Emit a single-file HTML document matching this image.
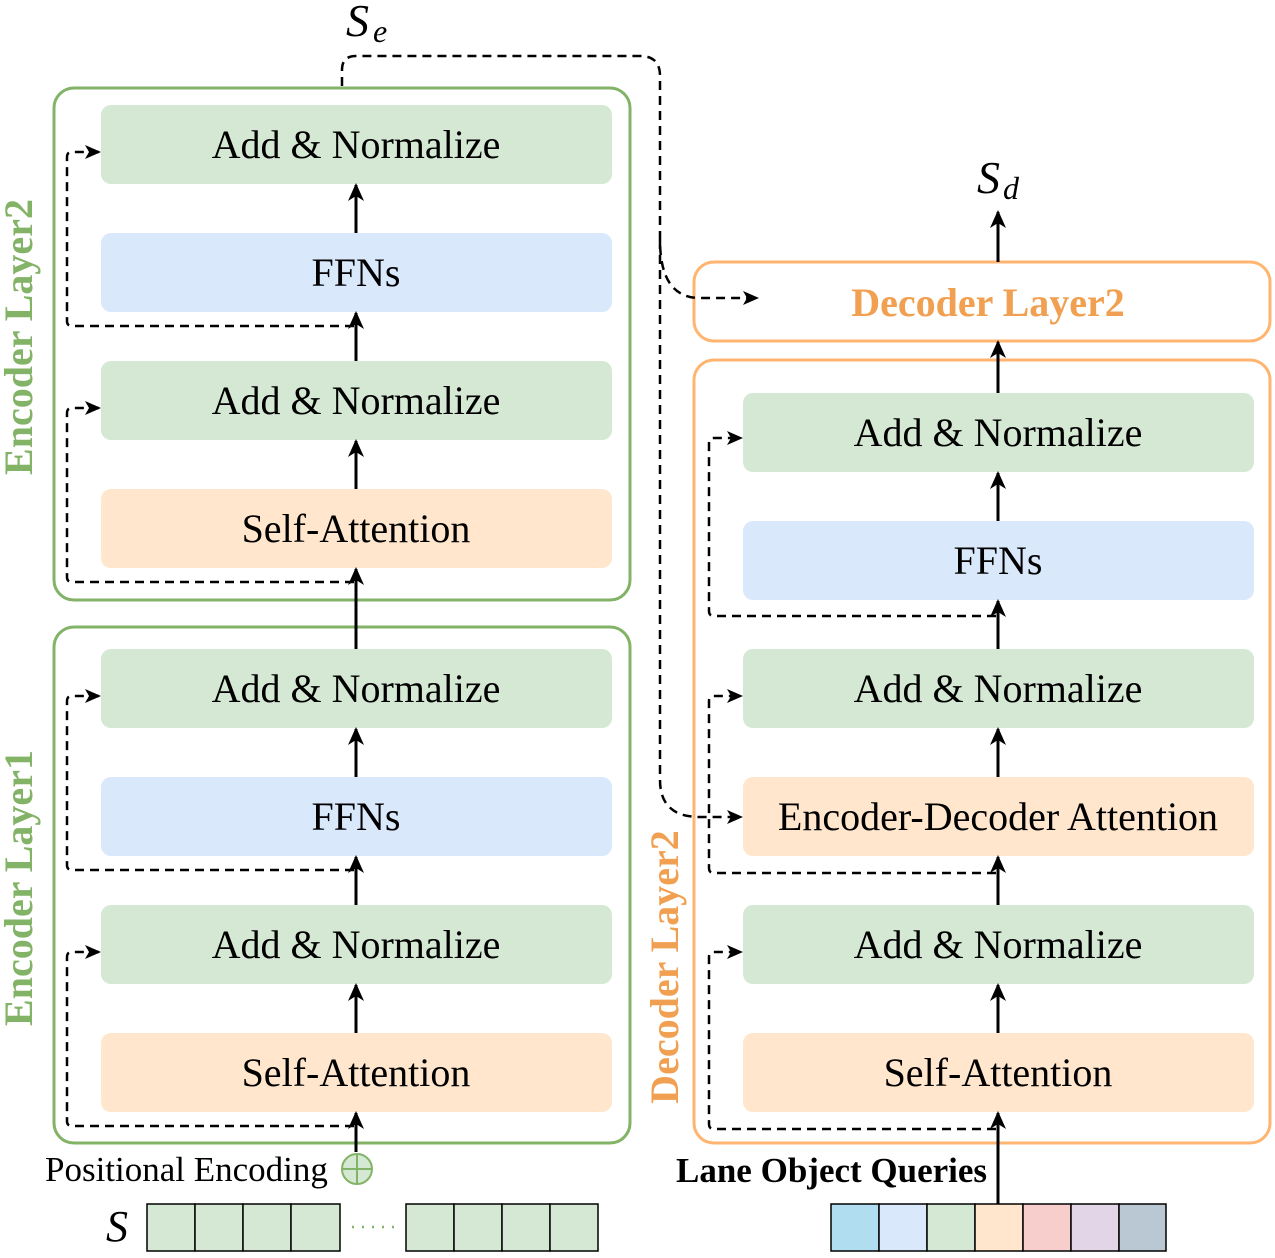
<!DOCTYPE html>
<html><head><style>body{margin:0;background:#fff}svg{display:block}</style></head><body>
<svg width="1275" height="1258" viewBox="0 0 1275 1258" xmlns="http://www.w3.org/2000/svg" font-family="Liberation Serif, serif">
<defs>
<marker id="a" markerWidth="20" markerHeight="16" refX="14" refY="7" orient="auto" markerUnits="userSpaceOnUse"><path d="M0,0 L16,7 L0,14 L4,7 Z" fill="#000"/></marker>
<marker id="b" markerWidth="20" markerHeight="20" refX="16" refY="8" orient="auto" markerUnits="userSpaceOnUse"><path d="M0,0 L18,8 L0,16 L5,8 Z" fill="#000"/></marker>
</defs>
<rect x="54" y="88" width="576" height="512" rx="20" fill="none" stroke="#82b366" stroke-width="3"/>
<rect x="54" y="627" width="576" height="516" rx="20" fill="none" stroke="#82b366" stroke-width="3"/>
<rect x="694" y="262" width="576" height="79" rx="20" fill="none" stroke="#ffb570" stroke-width="3"/>
<rect x="694" y="360" width="576" height="783" rx="20" fill="none" stroke="#ffb570" stroke-width="3"/>
<g font-size="40" text-anchor="middle" fill="#000">
<rect x="101" y="105" width="511" height="79" rx="10" fill="#d5e8d4"/><text x="356" y="158">Add &amp; Normalize</text>
<rect x="101" y="233" width="511" height="79" rx="10" fill="#dae8fc"/><text x="356" y="286">FFNs</text>
<rect x="101" y="361" width="511" height="79" rx="10" fill="#d5e8d4"/><text x="356" y="414">Add &amp; Normalize</text>
<rect x="101" y="489" width="511" height="79" rx="10" fill="#ffe6cc"/><text x="356" y="542">Self-Attention</text>
<rect x="101" y="649" width="511" height="79" rx="10" fill="#d5e8d4"/><text x="356" y="702">Add &amp; Normalize</text>
<rect x="101" y="777" width="511" height="79" rx="10" fill="#dae8fc"/><text x="356" y="830">FFNs</text>
<rect x="101" y="905" width="511" height="79" rx="10" fill="#d5e8d4"/><text x="356" y="958">Add &amp; Normalize</text>
<rect x="101" y="1033" width="511" height="79" rx="10" fill="#ffe6cc"/><text x="356" y="1086">Self-Attention</text>
<rect x="743" y="393" width="511" height="79" rx="10" fill="#d5e8d4"/><text x="998" y="446">Add &amp; Normalize</text>
<rect x="743" y="521" width="511" height="79" rx="10" fill="#dae8fc"/><text x="998" y="574">FFNs</text>
<rect x="743" y="649" width="511" height="79" rx="10" fill="#d5e8d4"/><text x="998" y="702">Add &amp; Normalize</text>
<rect x="743" y="777" width="511" height="79" rx="10" fill="#ffe6cc"/><text x="998" y="830">Encoder-Decoder Attention</text>
<rect x="743" y="905" width="511" height="79" rx="10" fill="#d5e8d4"/><text x="998" y="958">Add &amp; Normalize</text>
<rect x="743" y="1033" width="511" height="79" rx="10" fill="#ffe6cc"/><text x="998" y="1086">Self-Attention</text>
</g>
<text x="988" y="316" font-size="40" font-weight="bold" fill="#f0a050" text-anchor="middle">Decoder Layer2</text>
<g font-size="40" font-weight="bold" text-anchor="middle">
<text transform="translate(32,337) rotate(-90)" fill="#82b366">Encoder Layer2</text>
<text transform="translate(32,888) rotate(-90)" fill="#82b366">Encoder Layer1</text>
<text transform="translate(678,967) rotate(-90)" fill="#f0a050">Decoder Layer2</text>
</g>
<g stroke="#000" stroke-width="3" marker-end="url(#b)">
<line x1="356" y1="1152" x2="356" y2="1113"/>
<line x1="356" y1="1033" x2="356" y2="985"/>
<line x1="356" y1="905" x2="356" y2="857"/>
<line x1="356" y1="777" x2="356" y2="729"/>
<line x1="356" y1="649" x2="356" y2="569"/>
<line x1="356" y1="489" x2="356" y2="441"/>
<line x1="356" y1="361" x2="356" y2="313"/>
<line x1="356" y1="233" x2="356" y2="185"/>
<line x1="998" y1="1204" x2="998" y2="1113"/>
<line x1="998" y1="1033" x2="998" y2="985"/>
<line x1="998" y1="905" x2="998" y2="857"/>
<line x1="998" y1="777" x2="998" y2="729"/>
<line x1="998" y1="649" x2="998" y2="601"/>
<line x1="998" y1="521" x2="998" y2="473"/>
<line x1="998" y1="393" x2="998" y2="342"/>
<line x1="998" y1="262" x2="998" y2="212"/>
</g>
<g fill="none" stroke="#000" stroke-width="2.5" stroke-dasharray="9,6" marker-end="url(#a)">
<path d="M354,582 H72 Q67,582 67,577 V413 Q67,408 72,408 H99"/>
<path d="M354,326 H72 Q67,326 67,321 V157 Q67,152 72,152 H99"/>
<path d="M354,1126 H72 Q67,1126 67,1121 V957 Q67,952 72,952 H99"/>
<path d="M354,870 H72 Q67,870 67,865 V701 Q67,696 72,696 H99"/>
<path d="M996,1129 H714 Q709,1129 709,1124 V957 Q709,952 714,952 H741"/>
<path d="M996,873 H714 Q709,873 709,868 V701 Q709,696 714,696 H741"/>
<path d="M996,616 H714 Q709,616 709,611 V443 Q709,438 714,438 H741"/>
<path d="M342,86 V70 Q342,56 356,56 H640 Q660,56 660,76 V240 Q660,298 700,298 H757"/>
<path d="M660,240 V780 Q660,817 700,817 H741"/>
</g>
<text x="346" y="36" font-size="46" font-style="italic">S</text><text x="373" y="42" font-size="32" font-style="italic">e</text>
<text x="977" y="193" font-size="46" font-style="italic">S</text><text x="1003" y="199" font-size="32" font-style="italic">d</text>
<text x="45" y="1181" font-size="35">Positional Encoding</text>
<circle cx="357" cy="1169" r="15" fill="#d5e8d4" stroke="#82b366" stroke-width="2"/>
<line x1="342" y1="1169" x2="372" y2="1169" stroke="#82b366" stroke-width="2"/>
<line x1="357" y1="1154" x2="357" y2="1184" stroke="#82b366" stroke-width="2"/>
<text x="106" y="1241" font-size="44" font-style="italic">S</text>
<g stroke="#000" stroke-width="1.5" fill="#d5e8d4">
<rect x="147" y="1204" width="48" height="47"/><rect x="195" y="1204" width="48" height="47"/><rect x="243" y="1204" width="48" height="47"/><rect x="291" y="1204" width="49" height="47"/>
<rect x="406" y="1204" width="48" height="47"/><rect x="454" y="1204" width="48" height="47"/><rect x="502" y="1204" width="48" height="47"/><rect x="550" y="1204" width="48" height="47"/>
</g>
<line x1="352" y1="1227" x2="396" y2="1227" stroke="#82b366" stroke-width="2.5" stroke-dasharray="2,8"/>
<text x="676" y="1182" font-size="35" font-weight="bold">Lane Object Queries</text>
<g stroke="#000" stroke-width="1.5">
<rect x="831" y="1204" width="48" height="47" fill="#b1ddf0"/><rect x="879" y="1204" width="48" height="47" fill="#dae8fc"/><rect x="927" y="1204" width="48" height="47" fill="#d5e8d4"/><rect x="975" y="1204" width="48" height="47" fill="#ffe6cc"/><rect x="1023" y="1204" width="48" height="47" fill="#f8cecc"/><rect x="1071" y="1204" width="48" height="47" fill="#e1d5e7"/><rect x="1119" y="1204" width="47" height="47" fill="#bac8d3"/>
</g>
</svg>
</body></html>
